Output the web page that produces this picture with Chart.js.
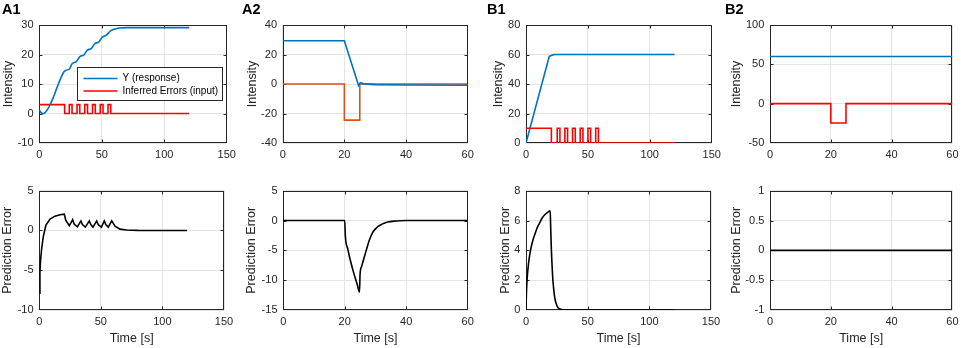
<!DOCTYPE html>
<html><head><meta charset="utf-8">
<script src="https://cdn.jsdelivr.net/npm/chart.js@4.4.1/dist/chart.umd.min.js"></script>
<style>
html,body{margin:0;padding:0;background:#fff;}
body{width:964px;height:348px;position:relative;overflow:hidden;font-family:'Liberation Sans',Arial,sans-serif;}
canvas{position:absolute;}
.lbl{position:absolute;font-weight:bold;font-size:14.5px;line-height:14px;color:#000;z-index:5;}
</style></head><body>
<div class="lbl" style="left:2px;top:2px">A1</div>
<div class="lbl" style="left:242px;top:2px">A2</div>
<div class="lbl" style="left:487px;top:2px">B1</div>
<div class="lbl" style="left:725px;top:2px">B2</div>
<canvas id="a1t"></canvas><canvas id="a2t"></canvas><canvas id="b1t"></canvas><canvas id="b2t"></canvas>
<canvas id="a1b"></canvas><canvas id="a2b"></canvas><canvas id="b1b"></canvas><canvas id="b2b"></canvas>
<script>
// ---------- tick values ----------
const xTicks150 = [0, 50, 100, 150];
const xTicks60 = [0, 20, 40, 60];
const a1TopYTicks = [-10, 0, 10, 20, 30];
const a2TopYTicks = [-40, -20, 0, 20, 40];
const b1TopYTicks = [0, 20, 40, 60, 80];
const b2TopYTicks = [-50, 0, 50, 100];
const a1BotYTicks = [-10, -5, 0, 5];
const a2BotYTicks = [-15, -10, -5, 0, 5];
const b1BotYTicks = [0, 2, 4, 6, 8];
const b2BotYTicks = [-1, -0.5, 0, 0.5, 1];

// ---------- A1 ----------
const a1RespT = [0, 1, 2, 3.5, 5, 6.5, 8.5, 11, 14, 17, 19.5, 21, 24, 26.5, 29.5, 32.5, 35.5, 38.5, 41.5, 44.5, 47.5, 50.5, 53.5, 57, 60, 64, 70, 120];
const a1RespY = [1.2, 0.5, 0.1, 0, 0.5, 1.3, 2.8, 5.2, 8.6, 11.8, 14.0, 14.6, 15.0, 17.0, 17.5, 19.3, 19.8, 21.5, 22.0, 23.7, 24.2, 25.9, 26.5, 28.0, 28.6, 29.0, 29.1, 29.1];
const a1InT = [0, 20.3, 24, 26.2, 30.2, 32.4, 36.4, 38.6, 42.6, 44.8, 48.8, 51, 55, 57.2, 120];
const a1InY = [3, 0, 3, 0, 3, 0, 3, 0, 3, 0, 3, 0, 3, 0, 0];
const a1ErrT = [0, 0.5, 1, 1.9, 3.2, 5.4, 8.7, 12.7, 16.8, 20.3, 21.5, 24.4, 27.1, 28.3, 30.9, 33.8, 35, 37.4, 40.6, 41.8, 43.6, 46.6, 47.8, 50.4, 52.8, 54, 56, 58.8, 61.5, 65.5, 70.9, 80, 120];
const a1ErrY = [-7.9, -5.2, -3.8, -2.3, -0.8, 0.67, 1.42, 1.8, 1.97, 2.05, 1.3, 0.6, 1.35, 0.8, 0.45, 1.2, 0.75, 0.42, 1.2, 0.75, 0.42, 1.2, 0.75, 0.42, 1.2, 0.75, 0.42, 1.2, 0.55, 0.17, 0.05, 0.01, 0];

// ---------- A2 ----------
const a2RespT = [0, 20, 24.6, 25.2, 26.3, 30, 40, 60];
const a2RespY = [29.3, 29.3, -1, 0.9, 0.1, -0.4, -0.7, -0.8];
const a2InT = [0, 20, 25, 60];
const a2InY = [0, -24.5, 0, 0];
const a2ErrT = [0, 20, 20.2, 21, 22, 23, 24, 24.8, 25, 25.5, 26, 27, 28, 29, 30, 31, 32, 33, 34, 36, 38, 40, 60];
const a2ErrY = [0, 0, -2.5, -4.8, -7.0, -8.9, -10.6, -12, -9, -7.7, -6.8, -5.0, -3.3, -2.1, -1.4, -0.95, -0.65, -0.4, -0.25, -0.1, -0.03, 0, 0];

// ---------- B1 ----------
const b1RespT = [0, 18.8, 20, 22, 25, 120];
const b1RespY = [0, 58.8, 59.2, 59.9, 60, 60];
const b1InT = [0, 20.5, 25.2, 27.4, 31.4, 33.6, 37.6, 39.8, 43.8, 46, 50, 52.2, 56.3, 58.5, 120];
const b1InY = [10, 0, 10, 0, 10, 0, 10, 0, 10, 0, 10, 0, 10, 0, 0];
const b1ErrT = [0, 0.3, 0.7, 1.2, 1.9, 3, 4.6, 6, 7.3, 9, 11.4, 13, 15.4, 17.5, 19.6, 20, 20.5, 21, 21.5, 22, 23, 24, 25, 26, 28, 30, 35, 120];
const b1ErrY = [0, 1.0, 1.8, 2.4, 3.0, 3.7, 4.36, 4.8, 5.1, 5.5, 5.9, 6.15, 6.4, 6.55, 6.65, 5.6, 4.2, 3.2, 2.4, 1.8, 1.0, 0.55, 0.3, 0.15, 0.05, 0.01, 0, 0];

// ---------- B2 ----------
const b2RespT = [0, 60];
const b2RespY = [60, 60];
const b2InT = [0, 20, 25, 60];
const b2InY = [0, -24.5, 0, 0];
const b2ErrT = [0, 60];
const b2ErrY = [0, 0];

const legendLabels = ['Y (response)', 'Inferred Errors (input)'];

// ---------- styling / layout ----------
const FONT = "'Liberation Sans', Arial, Helvetica, sans-serif";
const BLUE = '#0072BD', RED = '#FF0000', ORANGE = '#D95319', BLACK = '#000000';
const AXC = '#262626', GRID = '#e4e4e4';

function pts(t, v) { return t.map((x, i) => ({ x: x, y: v[i] })); }

const framePlugin = {
  id: 'frame',
  beforeDatasetsDraw(chart) {
    const { ctx, chartArea: a, scales } = chart;
    const L = Math.round(a.left) + 0.5, R = Math.round(a.right) - 0.5;
    const T = Math.round(a.top) + 0.5, B = Math.round(a.bottom) - 0.5;
    const cl = (v, lo, hi) => Math.min(Math.max(v, lo), hi);
    ctx.save();
    ctx.strokeStyle = AXC; ctx.lineWidth = 1;
    ctx.beginPath();
    scales.x.ticks.forEach(t => {
      const p = cl(Math.round(scales.x.getPixelForValue(t.value)) + 0.5, L, R);
      ctx.moveTo(p, B); ctx.lineTo(p, B - 3);
      ctx.moveTo(p, T); ctx.lineTo(p, T + 3);
    });
    scales.y.ticks.forEach(t => {
      const p = cl(Math.round(scales.y.getPixelForValue(t.value)) + 0.5, T, B);
      ctx.moveTo(L, p); ctx.lineTo(L + 3, p);
      ctx.moveTo(R, p); ctx.lineTo(R - 3, p);
    });
    ctx.stroke();
    ctx.strokeRect(L, T, R - L, B - T);
    ctx.restore();
  }
};

function legendPlugin(labels, colors) {
  return {
    id: 'legendBox',
    afterDatasetsDraw(chart) {
      const { ctx, chartArea: a } = chart;
      const w = 145, h = 33;
      const x0 = Math.round(a.right - 5 - w) + 0.5, y0 = Math.round(a.top + 41.5) + 0.5;
      ctx.save();
      ctx.fillStyle = '#fff';
      ctx.fillRect(x0, y0, w, h);
      ctx.strokeStyle = AXC; ctx.lineWidth = 1;
      ctx.strokeRect(x0, y0, w, h);
      ctx.font = '10px ' + FONT;
      ctx.textBaseline = 'middle';
      labels.forEach((lab, i) => {
        const yy = y0 + 11 + i * 12.6;
        ctx.strokeStyle = colors[i]; ctx.lineWidth = 1.5;
        ctx.beginPath(); ctx.moveTo(x0 + 6, yy); ctx.lineTo(x0 + 40, yy); ctx.stroke();
        ctx.fillStyle = '#000';
        ctx.fillText(lab, x0 + 45, yy);
      });
      ctx.restore();
    }
  };
}

function panel(spec) {
  const cv = document.getElementById(spec.id);
  const [pl, pt, pr, pb] = spec.plot;
  cv.width = spec.w; cv.height = spec.h;
  cv.style.left = spec.left + 'px'; cv.style.top = spec.top + 'px';
  cv.style.width = spec.w + 'px'; cv.style.height = spec.h + 'px';
  const yW = pl - spec.left, padTop = pt - spec.top, padRight = spec.left + spec.w - pr, xH = spec.top + spec.h - pb;
  const xT = spec.xTicks, yT = spec.yTicks;
  const plugins = [framePlugin];
  if (spec.legend) plugins.push(legendPlugin(spec.legend, spec.series.map(s => s.color)));
  new Chart(cv, {
    type: 'line',
    data: {
      datasets: spec.series.map(s => ({
        data: pts(s.t, s.v), borderColor: s.color, borderWidth: 1.6, pointRadius: 0,
        fill: false, stepped: s.stepped || false, tension: 0,
        cubicInterpolationMode: s.smooth ? 'monotone' : 'default'
      }))
    },
    options: {
      responsive: false, animation: false, devicePixelRatio: 1, events: [],
      layout: { autoPadding: false, padding: { left: 0, top: padTop, right: padRight, bottom: 0 } },
      plugins: { legend: { display: false }, tooltip: { enabled: false } },
      scales: {
        x: {
          type: 'linear', min: xT[0], max: xT[xT.length - 1],
          afterBuildTicks: sc => { sc.ticks = xT.map(v => ({ value: v })); },
          afterFit: sc => { sc.height = xH; },
          grid: { color: GRID, drawTicks: false }, border: { display: false },
          ticks: { padding: 5.5, font: { family: FONT, size: 11 }, color: AXC, maxRotation: 0, autoSkip: false, callback: v => String(v) },
          title: { display: !!spec.xTitle, text: spec.xTitle || '', font: { family: FONT, size: 12.5 }, color: AXC, padding: { top: 0, bottom: 2.2 } }
        },
        y: {
          type: 'linear', min: yT[0], max: yT[yT.length - 1],
          afterBuildTicks: sc => { sc.ticks = yT.map(v => ({ value: v })); },
          afterFit: sc => { sc.width = yW; },
          grid: { color: GRID, drawTicks: false }, border: { display: false },
          ticks: { padding: 5.7, font: { family: FONT, size: 11 }, color: AXC, autoSkip: false, callback: v => String(v) },
          title: { display: true, text: spec.yTitle, font: { family: FONT, size: 12.5 }, color: AXC, padding: { top: spec.yTitleOff - 7.5, bottom: 0 } }
        }
      }
    },
    plugins: plugins
  });
}

const TOP = { top: 0, h: 174, pt: 25, pb: 143 };
const BOT = { top: 174, h: 174, pt: 190.7, pb: 310 };

panel({ id: 'a1t', left: 0, w: 250, top: TOP.top, h: TOP.h, plot: [39.3, TOP.pt, 226.7, TOP.pb], xTicks: xTicks150, yTicks: a1TopYTicks, yTitle: 'Intensity', yTitleOff: 8.3, legend: legendLabels,
  series: [{ t: a1RespT, v: a1RespY, color: BLUE, smooth: true }, { t: a1InT, v: a1InY, color: RED, stepped: true }] });
panel({ id: 'a2t', left: 240, w: 250, top: TOP.top, h: TOP.h, plot: [282.7, TOP.pt, 467.7, TOP.pb], xTicks: xTicks60, yTicks: a2TopYTicks, yTitle: 'Intensity', yTitleOff: 12.3,
  series: [{ t: a2RespT, v: a2RespY, color: BLUE }, { t: a2InT, v: a2InY, color: ORANGE, stepped: true }] });
panel({ id: 'b1t', left: 480, w: 250, top: TOP.top, h: TOP.h, plot: [526, TOP.pt, 711.7, TOP.pb], xTicks: xTicks150, yTicks: b1TopYTicks, yTitle: 'Intensity', yTitleOff: 19,
  series: [{ t: b1RespT, v: b1RespY, color: BLUE }, { t: b1InT, v: b1InY, color: RED, stepped: true }] });
panel({ id: 'b2t', left: 720, w: 244, top: TOP.top, h: TOP.h, plot: [770, TOP.pt, 955, TOP.pb], xTicks: xTicks60, yTicks: b2TopYTicks, yTitle: 'Intensity', yTitleOff: 16.7,
  series: [{ t: b2RespT, v: b2RespY, color: BLUE }, { t: b2InT, v: b2InY, color: RED, stepped: true }] });

panel({ id: 'a1b', left: 0, w: 250, top: BOT.top, h: BOT.h, plot: [39.3, BOT.pt, 224, BOT.pb], xTicks: xTicks150, yTicks: a1BotYTicks, yTitle: 'Prediction Error', yTitleOff: 8, xTitle: 'Time [s]',
  series: [{ t: a1ErrT, v: a1ErrY, color: BLACK }] });
panel({ id: 'a2b', left: 240, w: 250, top: BOT.top, h: BOT.h, plot: [283.2, BOT.pt, 467.7, BOT.pb], xTicks: xTicks60, yTicks: a2BotYTicks, yTitle: 'Prediction Error', yTitleOff: 12, xTitle: 'Time [s]',
  series: [{ t: a2ErrT, v: a2ErrY, color: BLACK, smooth: true }] });
panel({ id: 'b1b', left: 480, w: 250, top: BOT.top, h: BOT.h, plot: [526, BOT.pt, 711, BOT.pb], xTicks: xTicks150, yTicks: b1BotYTicks, yTitle: 'Prediction Error', yTitleOff: 25.3, xTitle: 'Time [s]',
  series: [{ t: b1ErrT, v: b1ErrY, color: BLACK, smooth: true }] });
panel({ id: 'b2b', left: 720, w: 244, top: BOT.top, h: BOT.h, plot: [770, BOT.pt, 955, BOT.pb], xTicks: xTicks60, yTicks: b2BotYTicks, yTitle: 'Prediction Error', yTitleOff: 16.5, xTitle: 'Time [s]',
  series: [{ t: b2ErrT, v: b2ErrY, color: BLACK }] });
</script>
</body></html>
